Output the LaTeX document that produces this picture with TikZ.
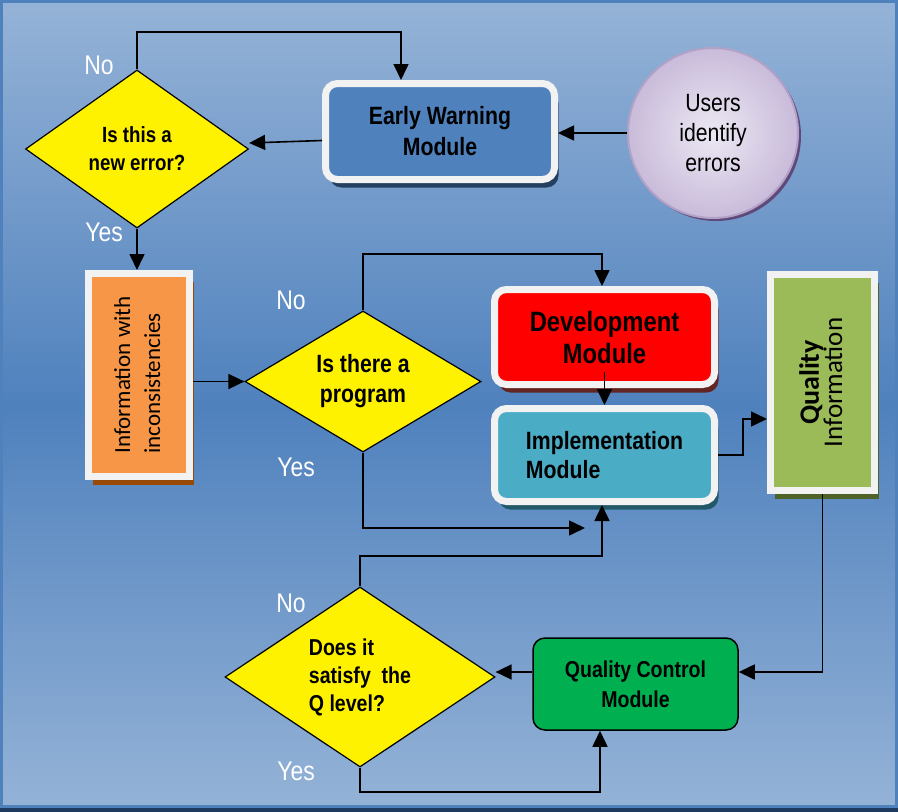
\documentclass[tikz,border=0pt]{standalone}
\usepackage{fontspec}
\usepackage{graphicx}
\setmainfont[FakeStretch=0.85]{Liberation Sans}
\newfontfamily\calfont{Carlito}
\usetikzlibrary{shapes.geometric,shadows,arrows.meta}

\definecolor{bglight}{HTML}{95B3D7}
\definecolor{bgdark}{HTML}{4F81BD}
\definecolor{framedark}{HTML}{1F3A5F}
\definecolor{framewhite}{HTML}{F2F2F2}
\definecolor{ewblue}{HTML}{4F81BD}
\definecolor{ewshadow}{HTML}{243F60}
\definecolor{devred}{HTML}{FF0000}
\definecolor{devshadow}{HTML}{632523}
\definecolor{impteal}{HTML}{4BACC6}
\definecolor{impshadow}{HTML}{215968}
\definecolor{infoorange}{HTML}{F79646}
\definecolor{infoshadow}{HTML}{984807}
\definecolor{qigreen}{HTML}{9BBB59}
\definecolor{qishadow}{HTML}{4F6228}
\definecolor{qcgreen}{HTML}{00B050}
\definecolor{usrin}{HTML}{ECE8F3}
\definecolor{usrout}{HTML}{C9BBDA}
\definecolor{usrline}{HTML}{B3A2C7}
\definecolor{usrshadow}{HTML}{5F497A}

\begin{document}
\begin{tikzpicture}[x=1pt,y=-1pt]

	\tikzset{
		decision/.style={diamond, draw, fill=yellow, line width=1.2pt, aspect=1.4, inner sep=0pt, align=center},
		module/.style={rounded corners=12pt, draw=framewhite, line width=7pt, inner sep=0pt, align=center},
		infobox/.style={draw=framewhite, line width=7pt, inner sep=0pt, align=center},
		shadowed/.style={drop shadow={shadow xshift=4pt, shadow yshift=-8pt, opacity=1, fill=#1}},
		answer/.style={text=white, font=\fontsize{27}{29}\selectfont},
		arr/.style={line width=1.6pt, -{Triangle[length=16pt,width=15pt]}}
	}

	\useasboundingbox (0,0) rectangle (898,812);
	\shade[top color=bglight, bottom color=bglight, middle color=bgdark] (0,0) rectangle (898,812);
	\draw[bgdark, line width=3pt] (1.5,1.5) rectangle (896.5,806);
	\fill[framedark] (0,808) rectangle (898,812);

	\node[decision, minimum width=223pt, minimum height=158pt, font=\bfseries\fontsize{22}{28}\selectfont] (d1) at (137,149) {Is this a\\new error?};
	\node[module, fill=ewblue, shadowed=ewshadow, minimum width=229pt, minimum height=96pt, font=\bfseries\fontsize{25}{31}\selectfont] (ew) at (440,131.5) {Early Warning\\Module};
	\node[circle, draw=usrline, line width=2pt, inner color=usrin, outer color=usrout, minimum size=170pt, inner sep=0pt, align=center,
		drop shadow={shadow xshift=3pt, shadow yshift=-3pt, opacity=1, fill=usrshadow}, font=\fontsize{25}{30}\selectfont] (usr) at (713,133) {Users\\identify\\errors};

	\node[infobox, fill=infoorange, shadowed=infoshadow, minimum width=101pt, minimum height=203pt] (inf) at (139,375)
		{\rotatebox{90}{\calfont\fontsize{23}{30}\selectfont\begin{tabular}{@{}l@{}}Information with\\inconsistencies\end{tabular}}};
	\node[decision, minimum width=236pt, minimum height=141pt, font=\bfseries\fontsize{25}{30}\selectfont] (d2) at (363,381.5) {Is there a\\program};
	\node[module, fill=devred, shadowed=devshadow, minimum width=220pt, minimum height=95pt, font=\bfseries\fontsize{28}{32}\selectfont] (dev) at (604.5,337) {Development\\Module};
	\node[module, fill=impteal, shadowed=impshadow, minimum width=220pt, minimum height=93pt, align=left, font=\bfseries\fontsize{25}{29}\selectfont] (imp) at (604.5,455) {Implementation\\Module};
	\node[infobox, fill=qigreen, shadowed=qishadow, minimum width=104pt, minimum height=216pt] (qi) at (822.5,382.5)
		{\rotatebox{90}{\calfont\begin{tabular}{@{}c@{}}\bfseries\fontsize{28}{31}\selectfont Quality\\\fontsize{27}{31}\selectfont Information\end{tabular}}};

	\node[draw, rounded corners=12pt, fill=qcgreen, line width=1.5pt, minimum width=205pt, minimum height=92pt, align=center, font=\bfseries\fontsize{23}{30}\selectfont] (qc) at (635.5,684) {Quality Control\\Module};
	\node[decision, minimum width=270pt, minimum height=180pt, align=left, font=\bfseries\fontsize{23}{28}\selectfont] (d3) at (360,677) {Does it\\satisfy\ \ the\\Q level?};

	\node[answer] (n1) at (99,65) {No};
	\node[answer] (y1) at (104,232) {Yes};
	\node[answer] (n2) at (291,300) {No};
	\node[answer] (y2) at (296,467) {Yes};
	\node[answer] (n3) at (291,603) {No};
	\node[answer] (y3) at (296,771) {Yes};

	\coordinate (c1) at (401,32);
	\coordinate (c2) at (602,254);
	\coordinate (c3) at (585,528);
	\coordinate (c4) at (743,419);
	\coordinate (c5) at (825,672);
	\coordinate (c6) at (602,556);
	\coordinate (c7) at (600,792);

	\draw[arr] (d1.north) |- (c1) -- (c1 |- ew.north);
	\draw[arr] ([yshift=-9pt]ew.west) -- ([yshift=6pt]d1.east);
	\draw[arr] (usr.west) -- (usr.west -| ew.east);
	\draw[arr] (d1.south) -- (d1.south |- inf.north);
	\draw[arr] (inf.east |- d2.west) -- (d2.west);
	\draw[arr] (d2.north) |- (c2) -- (c2 |- dev.north);
	\draw[arr] ([yshift=16pt]dev.south) -- (imp.north);
	\draw[arr] (d2.south) |- (c3);
	\draw[arr] (imp.east) -| (c4) -- (c4 -| qi.west);
	\draw[arr] (qi.south) |- (c5 -| qc.east);
	\draw[arr] (qc.west |- c5) -- (d3.east |- c5);
	\draw[arr] (d3.north) |- (c6) -- (c6 |- imp.south);
	\draw[arr] (d3.south) |- (c7) -- (c7 |- qc.south);

\end{tikzpicture}
\end{document}
